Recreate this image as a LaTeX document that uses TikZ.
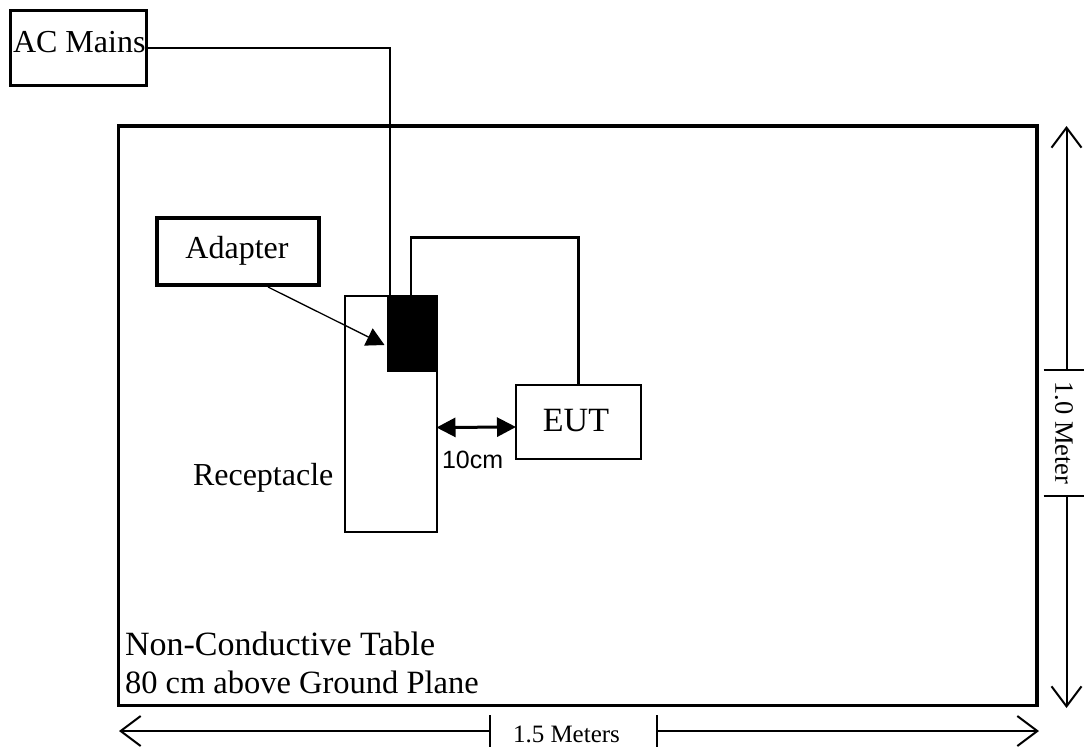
\documentclass[tikz,border=0pt]{standalone}
\usepackage{fontspec}
\setmainfont{Liberation Serif}
\newfontfamily\arialf{Liberation Sans}
\usetikzlibrary{arrows.meta,calc}
\tikzset{
  rbox/.style={draw, anchor=north west, inner sep=0pt, outer sep=0pt},
  lbl/.style={inner sep=0pt, outer sep=0pt, font=\fontsize{32}{36}\selectfont},
  wire/.style={line width=2.2pt},
  dim/.style={line width=2pt},
  barb/.style={-{Straight Barb[length=20pt,width=30pt,line width=2pt]}},
  fill tip/.style={-{Triangle[length=18pt,width=19pt]}}
}
\begin{document}
\begin{tikzpicture}[x=1pt,y=-1pt]
\useasboundingbox (0,0) rectangle (1084,747);

% table
\node[rbox, line width=3.5pt, minimum width=918.5, minimum height=579.5] (tab) at (118.5,126) {};
% AC mains
\node[rbox, line width=3pt, minimum width=136, minimum height=74.5] (ac) at (10,10.5) {};
\node[lbl, anchor=base west] (acl) at (13,52) {AC Mains};
% adapter
\node[rbox, line width=4.5pt, minimum width=162, minimum height=67] (ad) at (157,218) {};
\node[lbl, anchor=base] (adl) at (237,258) {Adapter};
% receptacle
\node[rbox, line width=2pt, minimum width=92, minimum height=236] (rec) at (344.5,296) {};
\node[rbox, draw=none, fill=black, minimum width=50, minimum height=76.5] (blk) at (387,295) {};
\node[lbl, anchor=base west] (recl) at (193,485) {Receptacle};
% EUT
\node[rbox, line width=2.5pt, minimum width=125, minimum height=74] (eut) at (516,385) {};
\node[lbl, anchor=base, font=\fontsize{34}{38}\selectfont] (eutl) at (576,431) {EUT};

% wires
\draw[wire] (ac.east) -| ($(blk.north west)+(3,0)$);
\coordinate (w1) at (578.5,237.5);
\draw[wire] ($(blk.north west)+(24,0)$) |- (w1) -- (eut.north);

% adapter arrow
\coordinate (adtip) at ($(rec.north west)+(40,49)$);
\draw[line width=1.3pt, fill tip] ($(ad.south west)+(111,2)$) -- (adtip);

% 10cm
\draw[line width=3pt, {Triangle[length=19pt,width=19pt]}-{Triangle[length=19pt,width=19pt]}]
  ($(rec.north east)+(0,131.5)$) -- ($(eut.west)+(0,5)$);
\node[lbl, anchor=base west, font=\arialf\fontsize{25}{30}\selectfont] (cml) at (442,468) {10cm};

% table text
\node[lbl, anchor=base west, font=\fontsize{34}{38}\selectfont] (t1) at (125,655) {Non-Conductive Table};
\node[lbl, anchor=base west, font=\fontsize{32.5}{36}\selectfont] (t2) at (125,693) {80 cm above Ground Plane};

% bottom dimension
\coordinate (bl) at (119,731);
\coordinate (br) at (1039,731);
\coordinate (bt1) at (490,731);
\coordinate (bt2) at (657,731);
\draw[dim, barb] (bt1) -- (bl);
\draw[dim, barb] (bt2) -- (br);
\draw[dim] ($(bt1)+(0,-16)$) -- ($(bt1)+(0,16)$);
\draw[dim] ($(bt2)+(0,-16)$) -- ($(bt2)+(0,16)$);
\node[lbl, anchor=base west, font=\fontsize{25}{28}\selectfont] (bml) at (513,742) {1.5 Meters};

% right dimension
\coordinate (rt) at (1066.5,126);
\coordinate (rb) at (1066.5,708);
\coordinate (rt1) at (1066.5,370);
\coordinate (rt2) at (1066.5,496);
\draw[dim, barb] (rt1) -- (rt);
\draw[dim, barb] (rt2) -- (rb);
\draw[dim] ($(rt1)+(-23,0)$) -- ($(rt1)+(18,0)$);
\draw[dim] ($(rt2)+(-23,0)$) -- ($(rt2)+(18,0)$);
\node[lbl, rotate=-90, font=\fontsize{26.5}{30}\selectfont] (rml) at (1064,433) {1.0 Meter};
\end{tikzpicture}
\end{document}
